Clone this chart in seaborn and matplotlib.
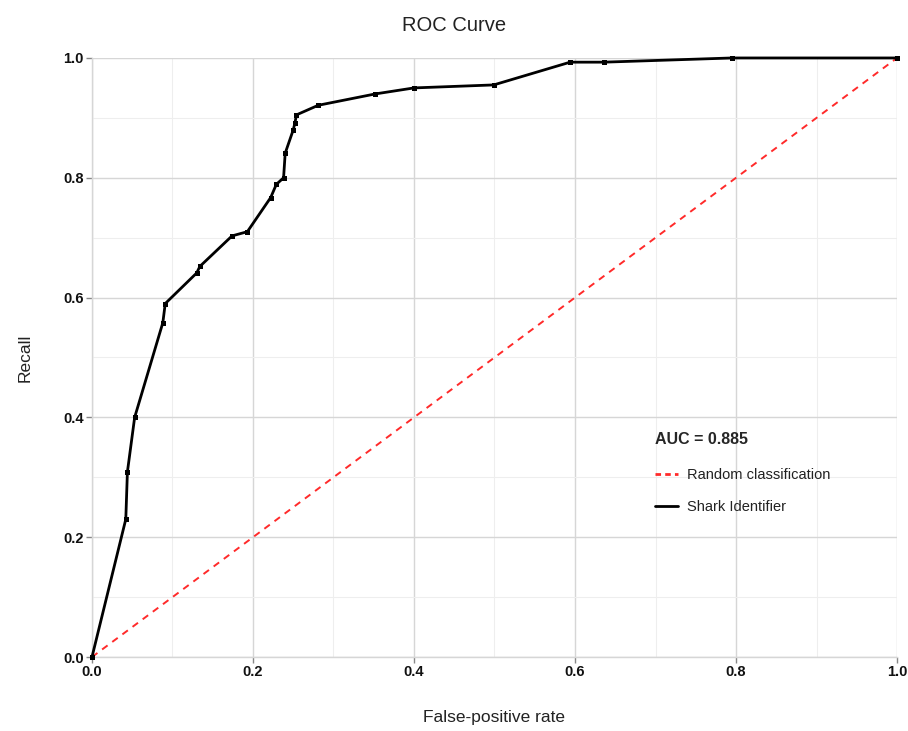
import matplotlib
matplotlib.use("Agg")
import matplotlib.pyplot as plt
import seaborn as sns
import pandas as pd
from matplotlib.lines import Line2D

# ROC points
fpr = [0.0, 0.042, 0.044, 0.053, 0.088, 0.091, 0.130, 0.134, 0.174, 0.193,
       0.222, 0.229, 0.238, 0.240, 0.250, 0.252, 0.254, 0.281, 0.352, 0.400,
       0.499, 0.594, 0.636, 0.795, 1.0]
recall = [0.0, 0.230, 0.309, 0.400, 0.558, 0.590, 0.641, 0.652, 0.703, 0.710,
          0.767, 0.789, 0.800, 0.841, 0.880, 0.891, 0.905, 0.921, 0.940, 0.950,
          0.955, 0.993, 0.993, 1.0, 1.0]
diag = [0.0, 1.0]
ticks = [0.0, 0.2, 0.4, 0.6, 0.8, 1.0]
minor_ticks = [0.1, 0.3, 0.5, 0.7, 0.9]
tick_labels = ["0.0", "0.2", "0.4", "0.6", "0.8", "1.0"]
auc_text = "AUC = 0.885"

sns.set_theme(style="whitegrid")
plt.rcParams["font.family"] = ["Liberation Sans", "DejaVu Sans"]

fig = plt.figure(figsize=(9.08, 7.31), dpi=100)
ax = fig.add_axes([0.1013, 0.1012, 0.8866, 0.8195])

roc = pd.DataFrame({"fpr": fpr, "recall": recall})
rand = pd.DataFrame({"fpr": diag, "recall": diag})

red = "#ff2a2a"
sns.lineplot(data=rand, x="fpr", y="recall", ax=ax, color=red,
             linestyle=(0, (3.5, 3)), linewidth=1.4,
             clip_on=False, zorder=3, legend=False)
sns.lineplot(data=roc, x="fpr", y="recall", ax=ax, color="black",
             linewidth=2.0, marker="s", markersize=3.6, markeredgewidth=0,
             clip_on=False, zorder=4, legend=False)

ax.set_xlim(0, 1)
ax.set_ylim(0, 1)
ax.set_xticks(ticks)
ax.set_yticks(ticks)
ax.set_xticks(minor_ticks, minor=True)
ax.set_yticks(minor_ticks, minor=True)
ax.set_xticklabels(tick_labels, fontweight="bold")
ax.set_yticklabels(tick_labels, fontweight="bold")
ax.grid(which="major", color="#d6d6d6", linewidth=1.0)
ax.grid(which="minor", color="#eeeeee", linewidth=0.8)
ax.set_facecolor("white")
for side in ["top", "right"]:
    ax.spines[side].set_visible(False)
for side in ["left", "bottom"]:
    ax.spines[side].set_color("#d6d6d6")
    ax.spines[side].set_linewidth(1.0)
ax.tick_params(which="major", length=4, width=1, color="#888888",
               labelsize=10.5, labelcolor="#111111", pad=2, bottom=True, left=True)
ax.tick_params(which="minor", length=0)

ax.set_xlabel("False-positive rate", fontsize=12.5, color="#222222", labelpad=22)
ax.set_ylabel("Recall", fontsize=12.5, color="#222222", labelpad=22)
fig.suptitle("ROC Curve", fontsize=14.5, color="#222222", y=0.978)

handles = [Line2D([], [], color=red, linestyle=(0, (2, 1.5)), linewidth=2),
           Line2D([], [], color="black", linewidth=2)]
leg = ax.legend(handles, ["Random classification", "Shark Identifier"],
                title=auc_text, loc="upper left", bbox_to_anchor=(0.683, 0.397),
                frameon=False, fontsize=10.5, handlelength=1.6, handletextpad=0.6,
                title_fontproperties={"weight": "bold", "size": 11.5},
                labelspacing=1.2)
leg._legend_box.align = "left"
leg._legend_box.sep = 15
for t in leg.get_texts():
    t.set_color("#222222")

fig.savefig("out.png", dpi=100)
